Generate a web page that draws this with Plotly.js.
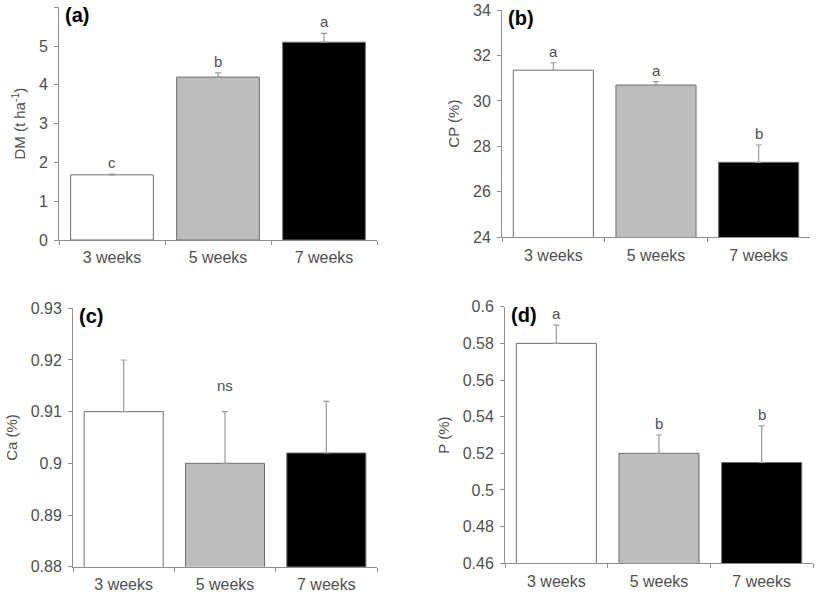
<!DOCTYPE html>
<html>
<head>
<meta charset="utf-8">
<script src="https://cdn.plot.ly/plotly-3.0.1.min.js"></script>
<style>html,body{margin:0;padding:0;background:#fff;}#chart{width:827px;height:592px;}</style>
</head>
<body>
<div id="chart"></div>
<script>
const categories = ["3 weeks", "5 weeks", "7 weeks"];
const dmMean = [1.68, 4.2, 5.1];
const dmErr = [0.02, 0.11, 0.23];
const dmLetters = ["c", "b", "a"];
const cpMean = [31.35, 30.7, 27.3];
const cpErr = [0.33, 0.15, 0.76];
const cpLetters = ["a", "a", "b"];
const caMean = [0.91, 0.9, 0.902];
const caErr = [0.01, 0.01, 0.01];
const caLetters = ["", "ns", ""];
const pMean = [0.58, 0.52, 0.515];
const pErr = [0.01, 0.01, 0.02];
const pLetters = ["a", "b", "b"];

const barColors = ["#ffffff", "#bdbdbd", "#000000"];
const font = "Liberation Sans, Arial, sans-serif";
const textGray = "#505050";
const axisGray = "#8f8f8f";

const panels = [
  {mean: dmMean, err: dmErr, letters: dmLetters, label: "(a)", title: "DM (t ha<sup>-1</sup>)", range: [0, 6], dtick: 1,
   xd: [59/827, 377/827], yd: [1-240/592, 1-7.3/592]},
  {mean: cpMean, err: cpErr, letters: cpLetters, label: "(b)", title: "CP (%)", range: [24, 34], dtick: 2,
   xd: [502/827, 810/827], yd: [1-237.3/592, 1-10/592]},
  {mean: caMean, err: caErr, letters: caLetters, label: "(c)", title: "Ca (%)", range: [0.88, 0.93], dtick: 0.01,
   xd: [73/827, 377/827], yd: [1-566.7/592, 1-308.3/592]},
  {mean: pMean, err: pErr, letters: pLetters, label: "(d)", title: "P (%)", range: [0.46, 0.6], dtick: 0.02,
   xd: [505/827, 813/827], yd: [1-563.3/592, 1-306.7/592]}
];

const data = [];
const layout = {
  width: 827, height: 592,
  margin: {l: 0, r: 0, t: 0, b: 0},
  paper_bgcolor: "#fff", plot_bgcolor: "#fff",
  showlegend: false,
  bargap: 0.22,
  font: {family: font, size: 15, color: textGray},
  annotations: []
};

panels.forEach((p, i) => {
  const n = i === 0 ? "" : String(i + 1);
  const xa = "x" + n, ya = "y" + n;
  data.push({
    type: "bar", x: categories, y: p.mean, xaxis: xa, yaxis: ya,
    marker: {color: barColors, line: {color: "#6e6e6e", width: 1}},
    error_y: {type: "data", array: p.err, symmetric: false, arrayminus: p.err.map(() => 0),
              color: "#9a9a9a", thickness: 1.2, width: 3},
    hoverinfo: "skip"
  });
  layout["xaxis" + n] = {
    domain: p.xd, anchor: ya, type: "category",
    showline: true, linecolor: axisGray, linewidth: 1,
    ticks: "outside", tickson: "boundaries", ticklen: 4, tickcolor: axisGray,
    ticklabelstandoff: 3,
    showgrid: false, zeroline: false, fixedrange: true,
    tickfont: {family: font, size: 16, color: textGray}
  };
  layout["yaxis" + n] = {
    domain: p.yd, anchor: xa, range: p.range, dtick: p.dtick, tick0: p.range[0],
    showline: true, linecolor: axisGray, linewidth: 1,
    ticks: "outside", ticklen: 4, tickcolor: axisGray,
    ticklabelstandoff: 3,
    showgrid: false, zeroline: false, fixedrange: true,
    tickfont: {family: font, size: 16, color: textGray},
    title: {text: p.title, font: {family: font, size: 15, color: textGray}, standoff: 9}
  };
  // panel label
  layout.annotations.push({
    xref: xa + " domain", yref: ya + " domain", x: 0, y: 1.0,
    xanchor: "left", yanchor: "top", xshift: 4, yshift: 5, showarrow: false,
    text: "<b>" + p.label + "</b>", font: {family: font, size: 20, color: "#000"}
  });
  // letters
  categories.forEach((c, j) => {
    if (!p.letters[j]) return;
    layout.annotations.push({
      xref: xa, yref: ya, x: c, y: p.mean[j] + p.err[j],
      xanchor: "center", yanchor: "bottom", yshift: 1, showarrow: false,
      text: p.letters[j], font: {family: font, size: 15, color: textGray}
    });
  });
});

// "ns" in panel c sits higher, above the middle bar
const nsAnn = layout.annotations.find(a => a.text === "ns");
if (nsAnn) { nsAnn.y = caMean[1] + caErr[1]; nsAnn.yshift = 16; }

Plotly.newPlot("chart", data, layout, {displayModeBar: false, staticPlot: true});
</script>
</body>
</html>
